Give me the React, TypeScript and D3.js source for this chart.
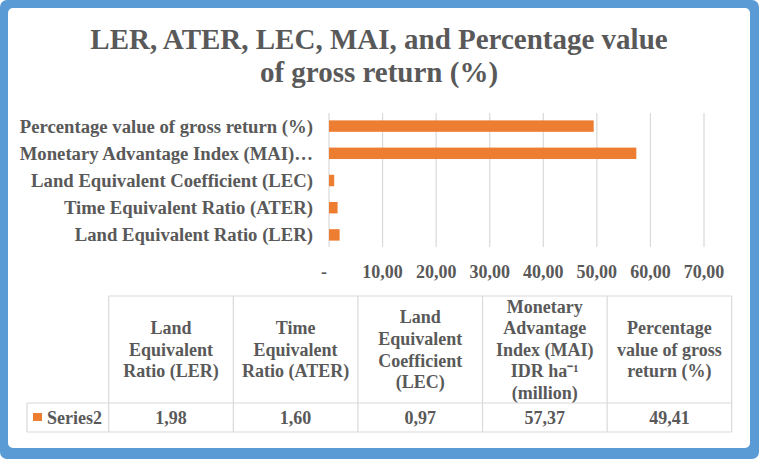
import * as d3 from "d3";

const axisLabels = [
  "Percentage value of gross return (%)",
  "Monetary Advantage Index (MAI)…",
  "Land Equivalent Coefficient (LEC)",
  "Time Equivalent Ratio (ATER)",
  "Land Equivalent Ratio (LER)",
];
const tableHeaders = [
  ["Land", "Equivalent", "Ratio (LER)"],
  ["Time", "Equivalent", "Ratio (ATER)"],
  ["Land", "Equivalent", "Coefficient", "(LEC)"],
  ["Monetary", "Advantage", "Index (MAI)", "IDR ha⁻¹", "(million)"],
  ["Percentage", "value of gross", "return (%)"],
];
// same order as the table columns
const series2 = [1.98, 1.6, 0.97, 57.37, 49.41];
const seriesName = "Series2";
const xTicks = [0, 10, 20, 30, 40, 50, 60, 70];

const W = 759;
const H = 459;
const textColor = "#595959";
const gridColor = "#d9d9d9";
const barColor = "#ed7d31";
const frameColor = "#5b9bd5";
const serif = "Liberation Serif";

const fmt = (v: number) => (v === 0 ? "-" : v.toFixed(2).replace(".", ","));

function Label(props: any) {
  const { children, ...rest } = props;
  return (
    <text fontWeight="bold" fill={textColor} style={{ fontFamily: serif }} {...rest}>
      {children}
    </text>
  );
}

export default function App() {
  const x = d3.scaleLinear().domain([0, 70]).range([329, 704]);
  // bars are listed bottom-up in the table order, so reverse for the axis
  const barRows = series2.map((v, i) => ({ label: axisLabels[4 - i], value: v }));
  const y = d3
    .scaleBand<string>()
    .domain(axisLabels)
    .range([112.5, 248.5])
    .paddingInner(0.58)
    .paddingOuter(0.29);

  const colX = d3.range(6).map((i) => 108.7 + i * 124.6);
  const tableTop = 296;
  const headerBottom = 403;
  const rowBottom = 432;
  const lineH = 21.6;

  return (
    <svg width={W} height={H} style={{ position: "absolute", left: 0, top: 0 }}>
      <rect x={0} y={0} width={W} height={H} rx={7} fill={frameColor} />
      <rect x={8} y={8} width={742} height={440} rx={5} fill="#ffffff" />

      {/* title */}
      <Label x={379} y={49} textAnchor="middle" fontSize={29}>
        LER, ATER, LEC, MAI, and Percentage value
      </Label>
      <Label x={379} y={82} textAnchor="middle" fontSize={29}>
        of gross return (%)
      </Label>

      {/* grid */}
      {xTicks.slice(1).map((t) => (
        <line key={t} x1={x(t)} x2={x(t)} y1={113} y2={247} stroke={gridColor} strokeWidth={1.2} />
      ))}
      <line x1={x(0)} x2={x(0)} y1={113} y2={247} stroke={gridColor} strokeWidth={1.2} />

      {/* bars */}
      {barRows.map((d) => (
        <rect
          key={d.label}
          x={x(0)}
          y={y(d.label)}
          width={x(d.value) - x(0)}
          height={y.bandwidth()}
          fill={barColor}
        />
      ))}

      {/* category labels */}
      {axisLabels.map((l) => (
        <Label
          key={l}
          x={313}
          y={(y(l) ?? 0) + y.bandwidth() / 2}
          dy="0.35em"
          textAnchor="end"
          fontSize={18.7}
        >
          {l}
        </Label>
      ))}

      {/* x tick labels */}
      {xTicks.map((t) => (
        <Label
          key={t}
          x={t === 0 ? x(t) - 5 : x(t)}
          y={272}
          dy="0.35em"
          textAnchor="middle"
          fontSize={18}
        >
          {fmt(t)}
        </Label>
      ))}

      {/* data table */}
      <g stroke={gridColor} strokeWidth={1.2} fill="none">
        <line x1={colX[0]} x2={colX[5]} y1={tableTop} y2={tableTop} />
        <line x1={27} x2={colX[5]} y1={headerBottom} y2={headerBottom} />
        <line x1={27} x2={colX[5]} y1={rowBottom} y2={rowBottom} />
        <line x1={27} x2={27} y1={headerBottom} y2={rowBottom} />
        {colX.map((cx, i) => (
          <line key={i} x1={cx} x2={cx} y1={tableTop} y2={rowBottom} />
        ))}
      </g>
      {tableHeaders.map((lines, i) => {
        const cx = (colX[i] + colX[i + 1]) / 2;
        const cy = (tableTop + headerBottom) / 2;
        const start = cy - ((lines.length - 1) * lineH) / 2;
        return (
          <Label key={i} textAnchor="middle" fontSize={18}>
            {lines.map((ln, j) => (
              <tspan key={j} x={cx} y={start + j * lineH} dy="0.35em">
                {ln}
              </tspan>
            ))}
          </Label>
        );
      })}
      {series2.map((v, i) => (
        <Label
          key={i}
          x={(colX[i] + colX[i + 1]) / 2}
          y={(headerBottom + rowBottom) / 2}
          dy="0.35em"
          textAnchor="middle"
          fontSize={18}
        >
          {fmt(v)}
        </Label>
      ))}
      <rect x={33} y={413} width={9} height={8} fill={barColor} />
      <Label x={47} y={(headerBottom + rowBottom) / 2} dy="0.35em" fontSize={18}>
        {seriesName}
      </Label>
    </svg>
  );
}
